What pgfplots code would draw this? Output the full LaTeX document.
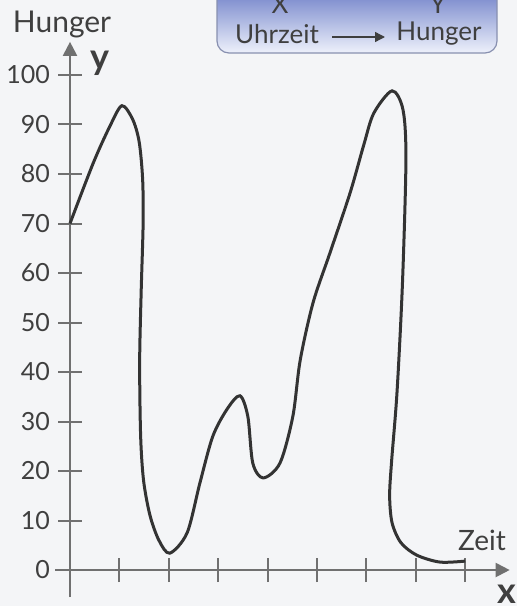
\documentclass[border=0pt]{standalone}
\usepackage{fontspec}
\setmainfont{Lato}
\usepackage{xcolor}
\usepackage{pgfplots}
\pgfplotsset{compat=1.18}
\usetikzlibrary{arrows.meta}
\definecolor{bgcol}{HTML}{F4F5F7}
\definecolor{axiscol}{HTML}{707070}
\definecolor{curvecol}{HTML}{333333}
\definecolor{txtcol}{HTML}{3F3F3F}
\definecolor{boxtop}{HTML}{5569BE}
\definecolor{boxbot}{HTML}{EEF1FB}
\definecolor{boxborder}{HTML}{8890B0}
\pagecolor{bgcol}
\begin{document}
\begin{tikzpicture}
\begin{axis}[
  scale only axis, width=227.25pt, height=277.7pt,
  xmin=-0.3, xmax=8.9, ymin=-5.5, ymax=106.7,
  axis lines=middle,
  axis line style={draw=axiscol, line width=1pt, -{Triangle[length=7pt,width=7pt]}},
  xtick={1,2,3,4,5,6,7,8}, xticklabels={},
  ytick={0,10,...,100},
  hide obscured x ticks=false, hide obscured y ticks=false,
  tick style={draw=axiscol, line width=1pt},
  major tick length=12pt, tick align=center,
  yticklabel style={anchor=east, font=\fontsize{12.5}{14}\selectfont, text=txtcol, xshift=-0.5pt},
  /pgf/number format/assume math mode=true,
  clip=false,
]
\addplot[smooth, tension=0.5, curvecol, line width=1.5pt] coordinates {
(0,70) (0.47,82.2) (0.8,89.5) (1.05,93.8) (1.27,91) (1.40,86.5) (1.47,79)
(1.48,70) (1.44,56) (1.41,42) (1.43,27) (1.49,18) (1.62,11) (1.80,6) (2.02,3.4)
(2.37,7.5) (2.63,17.6) (2.89,27) (3.18,32.5) (3.44,35.2) (3.60,31) (3.70,21.6)
(3.91,18.6) (4.25,21.6) (4.51,31) (4.66,42.4) (4.92,54) (5.26,64) (5.67,76.2)
(5.95,86) (6.15,92.3) (6.52,96.8) (6.74,93) (6.80,83) (6.73,58) (6.62,36)
(6.51,22) (6.47,15) (6.52,9.5) (6.70,5.5) (7.02,3) (7.49,1.6) (8.0,1.8)
};
\coordinate (TL) at (axis cs:-1.41700,115.1515);
\end{axis}
\pgfresetboundingbox
\begin{scope}[shift={(TL)}, x=0.5pt, y=-0.5pt]
\path[use as bounding box] (0,0) rectangle (517,606);
% labels
\node[text=txtcol, font=\fontsize{15}{17}\selectfont] at (62,24) {Hunger};
\node[text=txtcol, font=\fontsize{18}{20}\bfseries\selectfont] at (100,63) {y};
\node[text=txtcol, font=\fontsize{14}{16}\selectfont] at (482,540) {Zeit};
\node[text=txtcol, font=\fontsize{18}{20}\bfseries\selectfont] at (507,594) {x};
% box
\shade[top color=boxtop, bottom color=boxbot, draw=boxborder, line width=0.6pt, rounded corners=6pt] (217,-24) rectangle (497,53);
\node[text=txtcol, font=\fontsize{13}{15}\selectfont] at (280,4) {X};
\node[text=txtcol, font=\fontsize{13}{15}\selectfont] at (438,4) {Y};
\node[text=txtcol, font=\fontsize{13}{15}\selectfont] at (277,34) {Uhrzeit};
\node[text=txtcol, font=\fontsize{13}{15}\selectfont] at (439,34) {Hunger};
\draw[txtcol, line width=0.7pt, -{Triangle[length=5pt,width=5pt]}] (332,37) -- (385,37);
\end{scope}
\end{tikzpicture}
\end{document}
